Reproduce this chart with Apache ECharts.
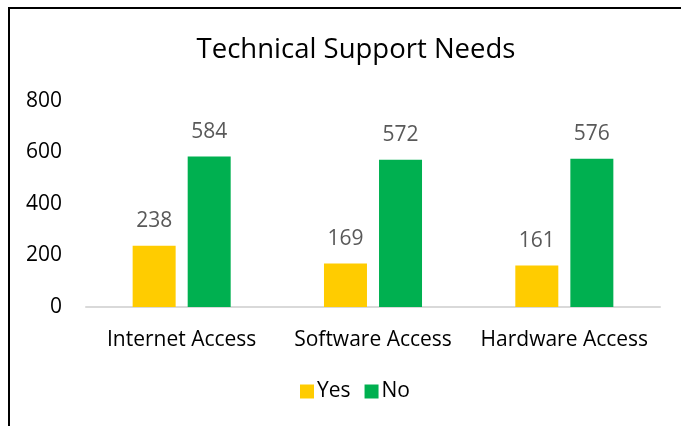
<!DOCTYPE html>
<html>
<head>
<meta charset="utf-8">
<script src="https://cdn.jsdelivr.net/npm/echarts@6/dist/echarts.min.js"></script>
<style>
  html, body { margin: 0; padding: 0; background: #fff; }
  #chart { width: 681px; height: 426px; }
</style>
</head>
<body>
<div id="chart"></div>
<script>
const categories = ['Internet Access', 'Software Access', 'Hardware Access']
const yesValues = [238, 169, 161]
const noValues = [584, 572, 576]
const yTicks = [0, 200, 400, 600, 800]

const font = 'Open Sans'
const chart = echarts.init(document.getElementById('chart'))

const labelStyle = {
  show: true,
  position: 'top',
  distance: 14,
  color: '#595959',
  fontSize: 21,
  fontFamily: font
}

chart.setOption({
  animation: false,
  // outer frame of the chart, partly cut off by the picture edge
  graphic: [{
    type: 'rect',
    shape: { x: 9, y: 8, width: 720, height: 480 },
    style: { fill: 'none', stroke: '#000', lineWidth: 2 }
  }],
  title: {
    text: 'Technical Support Needs',
    left: 351,
    textAlign: 'center',
    top: 31,
    textStyle: { fontFamily: font, fontSize: 27.5, fontWeight: 'normal', color: '#000' }
  },
  legend: {
    bottom: 19,
    left: 295,
    orient: 'horizontal',
    itemWidth: 14,
    itemHeight: 14,
    itemGap: 14,
    icon: 'rect',
    textStyle: { fontFamily: font, fontSize: 21, color: '#000', padding: [0, 0, 0, -2] },
    data: ['Yes', 'No']
  },
  grid: { left: 86, right: 21, top: 101, bottom: 119, containLabel: false },
  xAxis: {
    type: 'category',
    data: categories,
    axisLine: { lineStyle: { color: '#d9d9d9', width: 2 } },
    axisTick: { show: false },
    axisLabel: { fontFamily: font, fontSize: 21, color: '#000', margin: 23, interval: 0 }
  },
  yAxis: {
    type: 'value',
    min: yTicks[0],
    max: yTicks[yTicks.length - 1],
    interval: 200,
    splitLine: { show: false },
    axisLine: { show: false },
    axisTick: { show: false },
    axisLabel: { fontFamily: font, fontSize: 21, color: '#000', margin: 24 }
  },
  series: [
    {
      name: 'Yes',
      type: 'bar',
      data: yesValues,
      barWidth: 43,
      barGap: '28%',
      itemStyle: { color: '#ffcc00' },
      label: labelStyle
    },
    {
      name: 'No',
      type: 'bar',
      data: noValues,
      barWidth: 43,
      itemStyle: { color: '#00b050' },
      label: labelStyle
    }
  ]
})
</script>
</body>
</html>
